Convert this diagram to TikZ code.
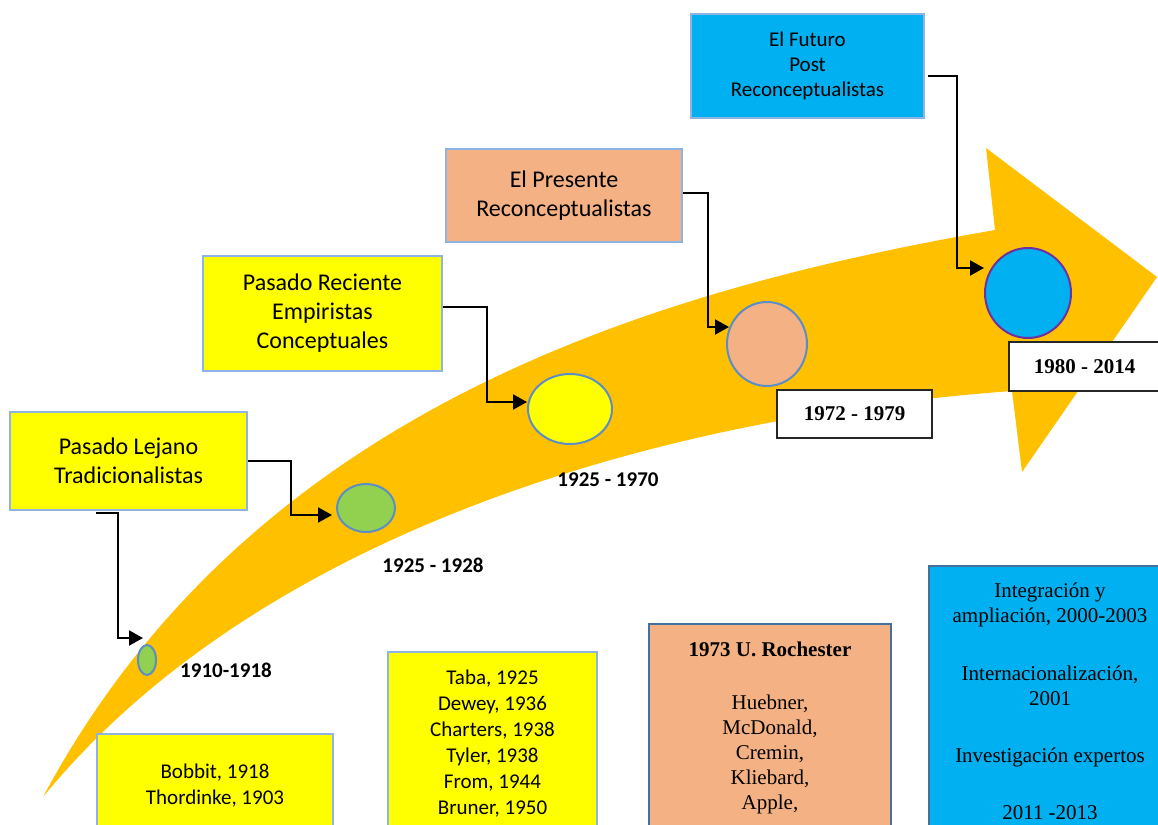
\documentclass[tikz,border=0pt]{standalone}
\usepackage{fontspec}
\setmainfont{Carlito}
\newfontfamily\tnr{Liberation Serif}
\usetikzlibrary{arrows.meta,calc,shapes.geometric}
\definecolor{band}{HTML}{FFC000}
\definecolor{yel}{HTML}{FFFF00}
\definecolor{grn}{HTML}{92D050}
\definecolor{sal}{HTML}{F4B183}
\definecolor{cyanb}{HTML}{00B0F0}
\definecolor{lblue}{HTML}{8FB4E3}
\definecolor{mblue}{HTML}{5B8DC8}
\definecolor{dblue}{HTML}{41719C}
\definecolor{purp}{HTML}{7030A0}
\begin{document}
\begin{tikzpicture}[x=1pt,y=-1pt,
 tbox/.style={draw=lblue,line width=1.2pt,align=center,inner sep=0pt},
 dot/.style={ellipse,draw=mblue,line width=2pt,inner sep=0pt},
 conn/.style={line width=2pt,-{Triangle[length=14pt,width=15pt]}},
 yr/.style={font=\fontsize{21}{25}\selectfont\bfseries},
 lbl/.style={draw=black!85,fill=white,line width=1.2pt,inner sep=0pt,font=\tnr\fontsize{21}{25}\selectfont\bfseries},
 big/.style={font=\fontsize{24}{29}\selectfont},
 mid/.style={font=\fontsize{21}{26}\selectfont},
 serif/.style={font=\tnr\fontsize{21}{25}\selectfont},
]
\useasboundingbox (0,0) rectangle (1158,824);
% curved arrow band
\fill[band] (43,797) .. controls (250,410) and (650,290) .. (995,230)
  -- (986,148) -- (1157,277) -- (1022,472) -- (1012,391)
  .. controls (620,420) and (245,550) .. (43,797) -- cycle;

% upper boxes
\node[tbox,fill=yel,big,minimum width=237pt,minimum height=98pt] (lej) at (128.5,461) {Pasado Lejano\\Tradicionalistas};
\node[tbox,fill=yel,big,minimum width=239pt,minimum height=115pt] (rec) at (322.5,313.5) {Pasado Reciente\\Empiristas\\Conceptuales};
\node[tbox,fill=sal,big,minimum width=236pt,minimum height=93pt] (pre) at (564,195.5) {El Presente\\Reconceptualistas};
\node[tbox,fill=cyanb,font=\fontsize{21}{25}\selectfont,minimum width=233pt,minimum height=104pt] (fut) at (807.5,66) {El Futuro\\Post\\Reconceptualistas};

% dots
\node[dot,fill=grn,minimum width=18pt,minimum height=30pt] (e1) at (147,660) {};
\node[dot,fill=grn,minimum width=58pt,minimum height=48pt] (e2) at (366,508) {};
\node[dot,fill=yel,minimum width=84pt,minimum height=70pt] (e3) at (570,409) {};
\node[dot,fill=sal,minimum width=80pt,minimum height=84pt] (e4) at (767,344) {};
\node[dot,fill=cyanb,draw=purp,minimum width=86pt,minimum height=90pt] (e5) at (1028,293) {};

% year labels
\node[yr] (y1) at (226,670) {1910-1918};
\node[yr] (y2) at (433,565) {1925 - 1928};
\node[yr] (y3) at (608,480) {1925 - 1970};
\node[lbl,minimum width=155pt,minimum height=48pt] (y4) at (854.5,414) {1972 - 1979};
\node[lbl,minimum width=151pt,minimum height=49pt] (y5) at (1084.5,366.5) {1980 - 2014};

% lower boxes
\node[tbox,fill=yel,mid,minimum width=236pt,minimum height=104pt] (bob) at (215,786) {Bobbit, 1918\\Thordinke, 1903};
\node[tbox,fill=yel,mid,minimum width=209pt,minimum height=183pt] (taba) at (492.5,743.5) {Taba, 1925\\Dewey, 1936\\Charters, 1938\\Tyler, 1938\\From, 1944\\Bruner, 1950};
\node[draw=dblue,line width=2pt,fill=sal,serif,align=center,inner sep=0pt,minimum width=242pt,minimum height=207pt] (roc) at (770,727.5) {\textbf{1973 U. Rochester}\\[28pt]Huebner,\\McDonald,\\Cremin,\\Kliebard,\\Apple,};
\node[draw=dblue,line width=2.5pt,fill=cyanb,serif,align=center,inner sep=0pt,minimum width=242pt,minimum height=270pt] (blu) at (1050,701) {Integración y\\ampliación, 2000-2003\\[33pt]Internacionalización,\\2001\\[32pt]Investigación expertos\\[32pt]2011 -2013};

% connectors
\draw[conn] ($(lej.south west)+(87,2)$) -- ++(22,0) |- ($(e1.north)+(-4,-6)$);
\draw[conn] (lej.east) -- ++(43,0) |- ($(e2.west)+(-4,7)$);
\draw[conn] ($(rec.east)+(0,-7)$) -- ++(44,0) |- ($(e3.west)+(0,-7)$);
\draw[conn] ($(pre.east)+(0,-3)$) -- ++(25,0) |- ($(e4.west)+(3,-17)$);
\draw[conn] ($(fut.east)+(3,10)$) -- ++(29,0) |- ($(e5.west)+(0,-25)$);
\end{tikzpicture}
\end{document}
